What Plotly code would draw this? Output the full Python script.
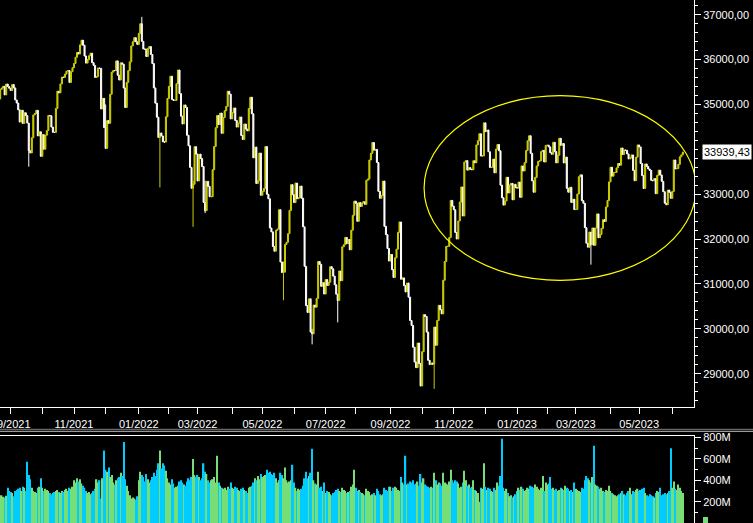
import pandas as pd
import plotly.graph_objects as go

# ---------------- data ----------------
HOLIDAYS = ["2021-09-06", "2021-11-25", "2021-12-24", "2022-01-17", "2022-02-21",
            "2022-04-15", "2022-05-30", "2022-06-20", "2022-07-04", "2022-09-05",
            "2022-11-24", "2022-12-26", "2023-01-02", "2023-01-16", "2023-02-20",
            "2023-04-07", "2023-05-29", "2023-06-19"]
FIRST_DAY = "2021-08-23"
LAST_DAY = "2023-06-12"
PREV_CLOSE = 35120.08

close_2021 = [
    35335.71, 35366.26, 35405.50, 35213.12, 35455.80, 35399.84, 35360.73,
    35312.53, 35443.82, 35369.09, 35100.00, 35031.07, 34879.38, 34607.72, 34869.63, 34577.57, 34814.39,
    34751.32, 34584.88, 33970.47, 33919.84, 34258.32, 34764.82, 34798.00, 34869.37, 34299.99, 34390.72, 33843.92,
    34326.46, 34002.92, 34314.67, 34416.99, 34754.94, 34746.25, 34496.06, 34378.34, 34377.81, 34912.56, 35294.76,
    35258.61, 35457.31, 35609.34, 35603.08, 35677.02, 35741.15, 35756.88, 35490.69, 35730.48, 35819.56,
    35913.84, 36052.63, 36157.58, 36124.23, 36327.95, 36432.22, 36319.98, 36079.94, 35921.23, 35999.52, 36087.45,
    36142.22, 35931.05, 35870.95, 35601.98, 35619.25, 35813.80, 35804.38, 34899.34, 35135.94, 34483.72,
    34022.04, 34639.79, 34580.08, 35227.03, 35719.43, 35754.75, 35754.69, 35970.99, 35650.95, 35544.18, 35927.43,
    35897.64, 35365.44, 34932.16, 35492.70, 35753.89, 35950.56, 36302.38, 36398.21, 36488.63, 36398.08, 36338.30,
]
close_2022 = [
    36585.06, 36799.65, 36407.11, 36236.47, 36231.66, 36068.87, 36252.02, 36290.32, 36113.62, 35911.81,
    35368.47, 35028.65, 34715.39, 34265.37, 34364.50, 34297.73, 34168.09, 34160.78, 34725.47, 35131.86,
    35405.24, 35629.33, 35111.16, 35089.74, 35091.13, 35462.78, 35768.06, 35241.59, 34738.06, 34566.17,
    34988.84, 34934.27, 34312.03, 34079.18, 33596.61, 33131.76, 33223.83, 34058.75, 33892.60,
    33294.95, 33891.35, 33794.66, 33614.80, 32817.38, 32632.64, 33286.25, 33174.07, 32944.19, 32945.24, 33544.34,
    34063.10, 34480.76, 34754.93, 34552.99, 34807.46, 34358.50, 34707.94, 34861.24, 34955.89, 35294.19, 35228.81, 34678.35,
    34818.27, 34921.88, 34641.18, 34496.51, 34583.57, 34721.12, 34308.08, 34220.36, 34564.59, 34451.23,
    34411.69, 34911.20, 35160.79, 34792.76, 33811.40, 34049.46, 33240.18, 33301.93, 33916.39, 32977.21,
    33061.50, 33128.79, 34061.06, 32997.97, 32899.37, 32245.70, 32160.74, 31834.11, 31730.30, 32196.66, 32223.42,
    32654.59, 31490.07, 31253.13, 31261.90, 31880.24, 31928.62, 32120.28, 32637.19, 33212.96, 32990.12,
    32813.23, 33248.28, 32899.70, 32915.78, 33180.14, 32910.90, 32272.79, 31392.79, 30516.74, 30364.83, 30668.53,
    29927.07, 29888.78, 30530.25, 30483.13, 30677.36, 31500.68, 31438.26, 30946.99, 31029.31, 30775.43,
    31097.26, 30967.82, 31037.68, 31384.55, 31338.15, 31173.84, 30981.33, 30772.79, 30630.17, 31288.26,
    31072.61, 31827.05, 31874.84, 32036.90, 31899.29, 31990.04, 31761.54, 32197.59, 32529.63, 32845.13,
    32798.40, 32396.17, 32812.50, 32726.82, 32803.47, 32832.54, 32774.41, 33309.51, 33336.67, 33761.05, 33912.44, 34152.01,
    33980.32, 33999.04, 33706.74, 33063.61, 32909.59, 32969.23, 33291.78, 32283.40, 32098.99, 31790.87, 31510.43,
    31656.42, 31318.44, 31145.30, 31581.28, 31774.52, 32151.71, 32381.34, 31104.97, 31135.09, 30961.82, 30822.42,
    31019.68, 30706.23, 30183.78, 30076.68, 29590.41, 29260.81, 29134.99, 29683.74, 29225.61, 28725.51,
    29490.89, 30316.32, 30273.87, 29926.94, 29296.79, 29202.88, 29239.19, 29210.85, 30038.72, 29634.83, 30185.82,
    30523.80, 30423.81, 30333.59, 31082.56, 31499.62, 31836.74, 31839.11, 32033.28, 32861.80, 32732.95,
    32653.20, 32147.76, 32001.25, 32403.22, 32827.00, 33160.83, 32513.94, 33715.37, 33747.86, 33536.70, 33592.92,
    33553.83, 33546.32, 33745.69, 33700.28, 34098.10, 34194.06, 34347.03, 33849.46, 33852.53, 34589.77,
    34395.01, 34429.88, 33947.10, 33596.34, 33597.92, 33781.48, 33476.46, 34005.04, 34108.64, 33966.35, 33202.22,
    32920.46, 32757.54, 32849.74, 33376.48, 33027.49, 33203.93, 33241.56, 32875.71, 33220.80, 33147.25,
]
close_2023 = [
    33136.37, 33269.77, 32930.08, 33630.61, 33517.65, 33704.10, 33973.01, 34189.97, 34302.61, 33910.85,
    33296.96, 33044.56, 33375.49, 33629.56, 33733.96, 33743.84, 33949.41, 33978.08, 33717.09, 34086.04,
    34092.96, 34053.94, 33926.01, 33891.02, 34156.69, 33949.01, 33699.88, 33869.27, 34245.93, 34089.27,
    34128.05, 33696.85, 33826.69, 33129.59, 33045.09, 33153.91, 32816.92, 32889.09, 32656.70,
    32661.84, 33003.57, 33390.97, 33431.44, 32856.46, 32798.40, 32254.86, 31909.64, 31819.14, 32155.40, 31874.57,
    32246.55, 31861.98, 32244.58, 32560.60, 32030.11, 32105.25, 32237.53, 32432.08, 32394.25, 32717.60, 32859.03, 33274.15,
    33601.15, 33402.38, 33482.72, 33485.29, 33586.52, 33684.79, 33646.50, 34029.69, 33886.47, 33987.18,
    33976.63, 33897.01, 33786.62, 33808.96, 33875.40, 33530.83, 33301.87, 33826.16, 34098.16,
    34051.70, 33684.53, 33414.24, 33127.74, 33674.38, 33618.69, 33561.81, 33531.33, 33309.51, 33300.62, 33348.60,
    33012.14, 33420.77, 33535.91, 33426.63, 33286.58, 33055.51, 32799.92, 32764.65, 33093.34, 33042.78, 32908.27,
    33061.57, 33762.76, 33562.86, 33573.28, 33665.02, 33833.61, 33876.78, 33939.43,
]

# volume in millions
volume_2021 = [
    250, 260, 245, 240, 255, 330, 300,
    290, 280, 250, 300, 310, 320, 330, 300, 340, 330, 300, 575, 450, 410, 330, 300, 290, 280, 330, 340, 420,
    330, 300, 320, 310, 300, 280, 270, 280, 290, 300, 310, 290, 280, 300, 290, 310, 320, 300, 330, 320, 340,
    400, 380, 420, 390, 410, 370, 350, 330, 300, 280, 290, 270, 280, 300, 320, 410, 380, 400, 230, 420, 680,
    500, 480, 520, 430, 450, 380, 360, 400, 420, 430, 470, 440, 760, 410, 350, 300, 260, 230, 240, 230, 220, 250,
]
volume_2022 = [
    400, 480, 450, 430, 390, 460, 410, 380, 400, 430, 470, 440, 500, 560, 680, 510, 560, 540, 490, 420,
    380, 360, 410, 370, 330, 340, 350, 390, 400, 380, 360, 350, 390, 420, 400, 430, 600, 450, 430,
    450, 430, 400, 420, 560, 480, 460, 400, 380, 400, 410, 430, 380, 630, 380, 350, 330, 320, 330, 310, 340, 320, 380,
    330, 320, 340, 330, 310, 300, 320, 330, 310, 300, 280, 330, 340, 350, 380, 420, 400, 440, 410, 460,
    430, 440, 450, 500, 470, 480, 460, 450, 470, 420, 380, 400, 470, 450, 420, 520, 400, 380, 390, 400, 545,
    380, 330, 300, 320, 310, 320, 350, 420, 480, 420, 440, 470, 695, 400, 370, 360, 480, 330, 340, 300, 380,
    280, 300, 290, 270, 260, 280, 290, 310, 320, 300, 290, 330, 310, 300, 280, 290, 300, 340, 360, 500,
    330, 300, 310, 290, 280, 270, 260, 320, 300, 290, 260, 270, 280, 260, 320, 300, 270, 260, 270, 330, 310, 300, 340,
    340, 300, 330, 340, 330, 310, 300, 430, 380, 360, 630, 360, 370, 390, 380, 400, 360, 370, 390, 350, 460,
    380, 420, 360, 350, 340, 330, 340, 330, 470, 400, 360, 380, 370, 350, 470, 380, 370, 360, 390, 500, 400,
    380, 400, 390, 370, 330, 340, 380, 490, 400, 350, 360, 330, 340, 400, 310, 300, 280, 200, 330, 320, 560,
    340, 310, 330, 320, 300, 290, 330, 310, 380, 350, 440, 790, 330, 300, 320, 280, 250, 260, 240, 250, 270,
]
volume_2023 = [
    300, 330, 310, 340, 320, 300, 310, 330, 320, 350, 340, 330, 360, 340, 320, 310, 330, 440, 300, 380,
    360, 370, 430, 320, 330, 310, 320, 300, 310, 330, 320, 310, 350, 330, 320, 300, 310, 290, 380,
    320, 310, 300, 290, 330, 320, 400, 440, 420, 400, 380, 430, 725, 360, 350, 340, 320, 330, 300, 290, 310, 300, 350,
    300, 280, 270, 260, 250, 260, 270, 280, 300, 270, 260, 280, 300, 330, 270, 300, 290, 310, 320,
    300, 310, 320, 330, 280, 260, 250, 270, 260, 250, 240, 280, 300, 290, 330, 260, 270, 280, 270, 280, 300, 700,
    330, 390, 320, 310, 360, 330, 300, 280,
]

# notable intraday extremes (date, high, low)
wick_dates = ["2021-09-20", "2021-12-01", "2022-01-05", "2022-01-24", "2022-02-24", "2022-03-08",
              "2022-05-20", "2022-06-17", "2022-07-14", "2022-10-13", "2023-03-15"]
wick_highs = [34584, 35000, 36952, 34364, 33300, 33300, 31500, 30000, 30700, 30038, 32155]
wick_lows = [33613, 34006, 36400, 33150, 32272, 32578, 30636, 29653, 30143, 28661, 31430]

# axis labels (34000 is hidden behind the last-price box in the reference)
price_ticks = [29000, 30000, 31000, 32000, 33000, 35000, 36000, 37000]
volume_ticks = [200, 400, 600, 800]

# ---------------- build ----------------
YELLOW = "#CCCC00"
GREEN = "#77DD77"
CYAN = "#00CCFF"


def fmt_price(v):
    return f"{v:.2f}".replace(".", ",")


dates = [d.strftime("%Y-%m-%d") for d in
         pd.bdate_range(FIRST_DAY, LAST_DAY, freq="C", holidays=HOLIDAYS)]
close = close_2021 + close_2022 + close_2023
volume = volume_2021 + volume_2022 + volume_2023
assert len(dates) == len(close) == len(volume), (len(dates), len(close), len(volume))

opens = [PREV_CLOSE] + close[:-1]
highs = [max(o, c) for o, c in zip(opens, close)]
lows = [min(o, c) for o, c in zip(opens, close)]
for d, h, l in zip(wick_dates, wick_highs, wick_lows):
    i = dates.index(d)
    highs[i] = max(highs[i], h)
    lows[i] = min(lows[i], l)

vcolors = [GREEN if c >= o else CYAN for o, c in zip(opens, close)]

# monthly ticks
tickvals, ticktext = [], []
prev_month = dates[0][:7]
for d in dates[1:]:
    if d[:7] != prev_month:
        prev_month = d[:7]
        y, m = int(d[:4]), int(d[5:7])
        tickvals.append(d)
        ticktext.append(f"{m:02d}/{y}" if m % 2 == 1 else "")

W, H = 753, 523
XR = 694 / W
price_dom = [1 - 407.3 / H, 1]
vol_dom = [0, 1 - 435.5 / H]

fig = go.Figure()
fig.add_trace(go.Candlestick(
    x=dates, open=opens, high=highs, low=lows, close=close,
    increasing=dict(line=dict(color=YELLOW, width=1), fillcolor=YELLOW),
    decreasing=dict(line=dict(color="#FFFFFF", width=1), fillcolor="#FFFFFF"),
    whiskerwidth=0, xaxis="x", yaxis="y", hoverinfo="skip"))
fig.add_trace(go.Bar(
    x=dates, y=volume, marker=dict(color=vcolors, line=dict(width=0)),
    xaxis="x2", yaxis="y2", hoverinfo="skip"))

axis_font = dict(family="Liberation Sans, Arial, sans-serif", size=11, color="white")
fig.update_layout(
    width=W, height=H, margin=dict(l=0, r=0, t=0, b=0, autoexpand=False),
    paper_bgcolor="black", plot_bgcolor="black", showlegend=False,
    bargap=0.12, boxgap=0.0, font=axis_font,
    xaxis=dict(domain=[0, XR], anchor="y", type="category", range=[-0.1, 460.4],
               rangeslider=dict(visible=False), tickmode="array", tickvals=tickvals,
               ticktext=ticktext, ticks="outside", ticklen=6, tickwidth=1, tickcolor="white",
               showline=True, linecolor="white", linewidth=1, showgrid=False, zeroline=False,
               ticklabeloverflow="allow", tickangle=0, tickfont=axis_font),
    yaxis=dict(domain=price_dom, anchor="x", side="right", range=[28251, 37328],
               tickmode="array", tickvals=price_ticks,
               ticktext=[fmt_price(v) for v in price_ticks],
               ticks="outside", ticklen=6, tickcolor="white", tickfont=axis_font,
               ticklabeloverflow="allow",
               minor=dict(tick0=0, dtick=200, ticks="outside", ticklen=3, tickcolor="white"),
               showline=True, mirror=True, linecolor="white", linewidth=1,
               showgrid=False, zeroline=False),
    xaxis2=dict(domain=[0, XR], anchor="y2", type="category", matches="x", side="top",
                showline=True, linecolor="white", linewidth=1, showticklabels=False,
                ticks="", showgrid=False, zeroline=False, rangeslider=dict(visible=False)),
    yaxis2=dict(domain=vol_dom, anchor="x2", side="right", range=[0, 820],
                tickmode="array", tickvals=volume_ticks,
                ticktext=[f"{v}M" for v in volume_ticks],
                ticks="outside", ticklen=6, tickcolor="white", tickfont=axis_font,
                ticklabeloverflow="allow",
                minor=dict(tick0=0, dtick=100, ticks="outside", ticklen=3, tickcolor="white"),
                showline=True, mirror=True, linecolor="white", linewidth=1,
                showgrid=False, zeroline=False),
    shapes=[
        dict(type="circle", xref="x", yref="y", x0=281.3, x1=461.7, y0=31081, y1=35195,
             line=dict(color="#FFFF00", width=1.2)),
        dict(type="line", xref="paper", yref="paper", x0=0, x1=1,
             y0=1 - 429.3 / H, y1=1 - 429.3 / H, line=dict(color="#808080", width=1)),
        dict(type="line", xref="paper", yref="paper", x0=0, x1=1,
             y0=1 - 431.3 / H, y1=1 - 431.3 / H, line=dict(color="#C0C0C0", width=1)),
        dict(type="rect", xref="paper", yref="paper", x0=703 / W, x1=708 / W,
             y0=0, y1=6 / H, fillcolor=GREEN, line=dict(width=0)),
    ],
    annotations=[
        dict(xref="paper", yref="y", x=702 / W, y=close[-1], xanchor="left", yanchor="middle",
             text=fmt_price(close[-1]), showarrow=False,
             bgcolor="white", borderpad=1,
             font=dict(family="Liberation Sans, Arial, sans-serif", size=11, color="black")),
    ],
)

fig.write_html(
    "out.html",
    config={"displayModeBar": False},
    post_script="document.body.style.margin='0';document.body.style.padding='0';"
                "document.body.style.overflow='hidden';document.body.style.background='black';",
)
